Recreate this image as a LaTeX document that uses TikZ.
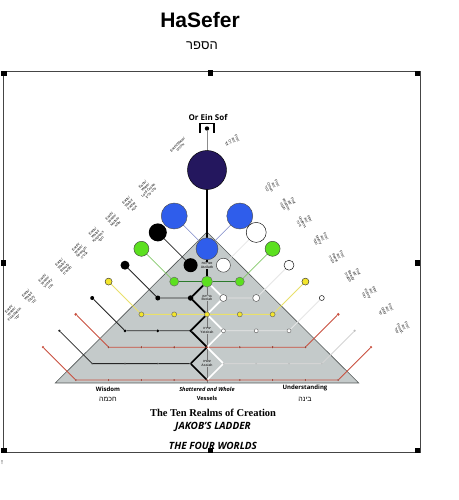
\documentclass[tikz,border=0pt]{standalone}
\usepackage{fontspec}
\setmainfont{Liberation Serif}
\setsansfont{Open Sans}
\newfontfamily\arialf{Liberation Sans}
\newfontfamily\hebf[Script=Hebrew]{Liberation Sans}
\TeXXeTstate=1
\newcommand{\heb}[1]{{\hebf\beginR #1\endR}}
\newcommand{\tinyf}{\fontsize{3.5}{3.9}\selectfont\arialf}
\definecolor{einsof}{HTML}{24175E}
\definecolor{sblue}{HTML}{2F5DEB}
\definecolor{sgreen}{HTML}{5CE01F}
\definecolor{syellow}{HTML}{F3E52C}
\definecolor{sred}{HTML}{C9503F}
\definecolor{tri}{HTML}{C4CACA}
\definecolor{trid}{HTML}{505555}
\definecolor{framec}{HTML}{454545}
\definecolor{lyellow}{HTML}{E9E06A}
\definecolor{lgreen}{HTML}{84C96A}
\definecolor{dgreen}{HTML}{2B7A2B}
\definecolor{lblue}{HTML}{7B86C8}
\definecolor{wl}{HTML}{E6E6E6}
\definecolor{gl}{HTML}{D4D4D4}
\pgfdeclarelayer{bottom}
\pgfdeclarelayer{back}
\pgfsetlayers{bottom,back,main}
\begin{document}
\begin{tikzpicture}[x=1pt,y=-1pt,
  sph/.style={circle,inner sep=0pt,outer sep=0pt,line width=0.45pt},
  lblL/.style={font=\tinyf,align=center,rotate=45,inner sep=0pt,text=black},
  lblR/.style={font=\tinyf,align=center,rotate=-62,inner sep=0pt,text=black},
  inlbl/.style={font=\fontsize{3.4}{3.8}\selectfont\arialf\bfseries,align=center,inner sep=0.3pt,fill=tri,text=black!80},
  lnBlue/.style={draw=lblue,line width=0.6pt},
  lnBlack/.style={draw=black!85,line width=0.8pt},
  lnWhite/.style={draw=wl,line width=0.8pt},
  lnGray/.style={draw=gl,line width=0.9pt},
  lnGreenD/.style={draw=lgreen,line width=0.7pt},
  lnGreenH/.style={draw=dgreen,line width=1pt},
  lnYellow/.style={draw=lyellow,line width=1pt},
  lnRed/.style={draw=sred,line width=0.9pt},
  lnCenter/.style={draw=black!55,line width=0.4pt},
  zzBlack/.style={draw=black,line width=1.7pt,line cap=round,line join=round},
  zzWhite/.style={draw=white,line width=1.7pt,line cap=round,line join=round},
  botlbl/.style={font=\sffamily\bfseries\fontsize{6}{7}\selectfont,inner sep=0pt},
  bighd/.style={font=\sffamily\bfseries\itshape\fontsize{10}{12}\selectfont,inner sep=0pt}
]
\useasboundingbox (0,0) rectangle (458,500);
\begin{pgfonlayer}{bottom}
\fill[white] (0,0) rectangle (458,500);
\end{pgfonlayer}

% titles
\node[font=\arialf\bfseries\fontsize{21}{24}\selectfont] (title) at (200,20) {HaSefer};
\node[font=\fontsize{13}{15}\selectfont] (titleH) at (202,46) {\heb{הספר}};

% frame
\draw[draw=framec,line width=1pt] (3,71.5) rectangle (420,452.5);

% Or Ein Sof
\node[font=\sffamily\bfseries\fontsize{8}{9}\selectfont,inner sep=0pt] (ors) at (208,117) {Or Ein Sof};
\draw[line width=1.5pt] (200,133) -- (200,123.5) -- (214,123.5) -- (214,133);
\fill (207,128.5) circle (2.2);
\coordinate (icon) at (207,131);
\node[sph,fill=einsof,draw=black,minimum size=39pt] (bigc) at (207,170) {};

\node[lblL] (ltop) at (179,146) {Earth/Water/\\\heb{אלהים}};
\node[lblR] (rtop) at (232,141) {Fire/\\Air/\\Or\\\heb{אור}};

\begin{scope}[shift={(207,216)},x=16.4pt,y=-16.4pt]
\begin{pgfonlayer}{bottom}
\fill[tri,draw=trid,line width=0.6pt] (0,0.98) -- (9.25,10.18) -- (-9.25,10.18) -- cycle;
\end{pgfonlayer}
\coordinate (base) at (0,10.18);
% level 0
\node[sph,fill=sblue,draw=black!70,minimum size=26pt] (OL0) at (-2,0) {};
\node[sph,fill=sblue,draw=black!70,minimum size=26pt] (OR0) at (2,0) {};
\node[sph,fill=sblue,draw=black!70,minimum size=22pt] (C0) at (0,2) {};
% level 1
\node[sph,fill=black,minimum size=18pt] (OL1) at (-3,1) {};
\node[sph,fill=white,draw=black,minimum size=20pt] (OR1) at (3,1) {};
\node[sph,fill=black,minimum size=14pt] (RL1-1) at (-1,3) {};
\node[sph,fill=white,draw=black!80,minimum size=14pt] (RR1-1) at (1,3) {};
% level 2
\node[sph,fill=sgreen,draw=black!75,minimum size=15pt] (OL2) at (-4,2) {};
\node[sph,fill=sgreen,draw=black!75,minimum size=15pt] (OR2) at (4,2) {};
\node[sph,fill=sgreen,draw=black!60,minimum size=9pt] (RL2-2) at (-2,4) {};
\node[sph,fill=sgreen,draw=black!60,minimum size=9pt] (RR2-2) at (2,4) {};
\node[sph,fill=sgreen,draw=black!60,minimum size=11pt] (C2) at (0,4) {};
% level 3
\node[sph,fill=black,minimum size=9pt] (OL3) at (-5,3) {};
\node[sph,fill=white,draw=black,minimum size=10pt] (OR3) at (5,3) {};
\node[sph,fill=black,minimum size=5pt] (RL3-3) at (-3,5) {};
\node[sph,fill=black,minimum size=5.5pt] (RL3-1) at (-1,5) {};
\node[sph,fill=white,draw=black!70,minimum size=7pt] (RR3-1) at (1,5) {};
\node[sph,fill=white,draw=black!70,minimum size=7pt] (RR3-3) at (3,5) {};
% level 4
\foreach \n/\x in {OL4/-6,OR4/6}
  \node[sph,fill=syellow,draw=black!80,minimum size=7pt] (\n) at (\x,4) {};
\foreach \n/\x in {RL4-4/-4,RL4-2/-2,C4/0,RR4-2/2,RR4-4/4}
  \node[sph,fill=syellow,draw=black!60,minimum size=5pt] (\n) at (\x,6) {};
% level 5
\node[sph,fill=black,minimum size=4pt] (OL5) at (-7,5) {};
\node[sph,fill=white,draw=black,minimum size=5pt] (OR5) at (7,5) {};
\foreach \n/\x in {RL5-5/-5,RL5-3/-3,RL5-1/-1}
  \node[sph,fill=black,minimum size=3pt] (\n) at (\x,7) {};
\foreach \n/\x in {RR5-1/1,RR5-3/3,RR5-5/5}
  \node[sph,fill=white,draw=black!60,minimum size=4pt] (\n) at (\x,7) {};
% level 6
\foreach \n/\x in {OL6/-8,OR6/8}
  \node[sph,fill=sred,minimum size=3pt] (\n) at (\x,6) {};
\foreach \n/\x in {RL6-6/-6,RL6-4/-4,RL6-2/-2,C6/0,RR6-2/2,RR6-4/4,RR6-6/6}
  \node[sph,fill=sred!80!black,minimum size=2.2pt] (\n) at (\x,8) {};
% level 7
\node[sph,fill=black!85,minimum size=2.5pt] (OL7) at (-9,7) {};
\node[sph,fill=black!25,minimum size=2.5pt] (OR7) at (9,7) {};
\foreach \n/\x in {RL7-7/-7,RL7-5/-5,RL7-3/-3,RL7-1/-1}
  \node[sph,fill=black!80,minimum size=1.8pt] (\n) at (\x,9) {};
\foreach \n/\x in {RR7-1/1,RR7-3/3,RR7-5/5,RR7-7/7}
  \node[sph,fill=black!25,minimum size=1.8pt] (\n) at (\x,9) {};
% level 8
\foreach \n/\x in {OL8/-10,OR8/10}
  \node[sph,fill=sred,minimum size=2.5pt] (\n) at (\x,8) {};
\foreach \n/\x in {RL8-8/-8,RL8-6/-6,RL8-4/-4,RL8-2/-2,C8/0,RR8-2/2,RR8-4/4,RR8-6/6,RR8-8/8}
  \node[sph,fill=sred!80!black,minimum size=2pt] (\n) at (\x,10) {};

% inner labels
\node[inlbl] (atz) at (0,3) {\heb{אצילות}\\Atziluth};
\node[inlbl] (ber) at (0,5) {\heb{בריאה}\\Beriah};
\node[inlbl] (yet) at (0,7) {\heb{יצירה}\\Yetzirah};
\node[inlbl] (ass) at (0,9) {\heb{עשיה}\\Assiah};

\begin{pgfonlayer}{back}
\draw[draw=black!45,line width=0.6pt] (icon) -- (bigc);
\draw[lnCenter] (C2) -- (base);
\draw[lnBlue] (OL0) -- (C0);
\draw[lnBlue] (OR0) -- (C0);
\draw[lnBlack] (OL1) -- (RL1-1);
\draw[lnWhite] (OR1) -- (RR1-1);
\draw[lnGreenD] (OL2) -- (RL2-2);
\draw[lnGreenD] (OR2) -- (RR2-2);
\draw[lnGreenH] (RL2-2) -- (C2) -- (RR2-2);
\draw[lnBlack] (OL3) -- (RL3-3) -- (RL3-1);
\draw[lnWhite] (OR3) -- (RR3-3) -- (RR3-1);
\draw[lnYellow] (OL4) -- (RL4-4) -- (RL4-2) -- (C4) -- (RR4-2) -- (RR4-4) -- (OR4);
\draw[lnBlack] (OL5) -- (RL5-5) -- (RL5-3) -- (RL5-1);
\draw[lnWhite] (OR5) -- (RR5-5) -- (RR5-3) -- (RR5-1);
\draw[lnRed] (OL6) -- (RL6-6) -- (RL6-4) -- (RL6-2) -- (C6) -- (RR6-2) -- (RR6-4) -- (RR6-6) -- (OR6);
\draw[lnBlack] (OL7) -- (RL7-7) -- (RL7-5) -- (RL7-3) -- (RL7-1);
\draw[lnGray] (OR7) -- (RR7-7) -- (RR7-5) -- (RR7-3) -- (RR7-1);
\draw[lnRed] (OL8) -- (RL8-8) -- (RL8-6) -- (RL8-4) -- (RL8-2) -- (C8) -- (RR8-2) -- (RR8-4) -- (RR8-6) -- (RR8-8) -- (OR8);
\draw[zzBlack] (bigc) -- (C0) -- (C2) -- (RL3-1) -- (C4) -- (RL5-1) -- (C6) -- (RL7-1) -- (C8);
\draw[zzWhite] (C2) -- (RR3-1) -- (C4) -- (RR5-1) -- (C6) -- (RR7-1) -- (C8);
\end{pgfonlayer}
\end{scope}

% left rotated label blocks
\node[lblL] (L0) at (147,189) {Earth/\\Water/\\Lord Crown\\\heb{כתר עליון}};
\node[lblL] (L1) at (130.2,204.5) {Earth/\\Water/\\Father\\\heb{אבא}};
\node[lblL] (L2) at (113.5,220) {Earth/\\Water/\\Mother\\\heb{אמא}};
\node[lblL] (L3) at (96.8,235.5) {Earth/\\Water/\\Kindness\\\heb{חסד}};
\node[lblL] (L4) at (80,251) {Earth/\\Water/\\Strength\\\heb{גבורה}};
\node[lblL] (L5) at (63.2,266.5) {Earth/\\Water/\\Beauty\\\heb{תפארת}};
\node[lblL] (L6) at (46.5,282) {Earth/\\Water/\\Victory\\\heb{נצח}};
\node[lblL] (L7) at (29.8,297.5) {Earth/\\Water/\\Glory\\\heb{הוד}};
\node[lblL] (L8) at (13,313) {Earth/\\Water/\\Foundation\\\heb{יסוד}};

% right rotated label blocks
\node[lblR] (R0) at (272,186) {Fire/\\Air/\\Crown\\\heb{כתר}};
\node[lblR] (R1) at (288.2,203.8) {Fire/\\Air/\\Wisdom\\\heb{חכמה}};
\node[lblR] (R2) at (304.5,221.5) {Fire/\\Air/\\Underst.\\\heb{בינה}};
\node[lblR] (R3) at (320.8,239.2) {Fire/\\Air/\\Mercy\\\heb{חסד}};
\node[lblR] (R4) at (337,257) {Fire/\\Air/\\Power\\\heb{גבורה}};
\node[lblR] (R5) at (353.2,274.8) {Fire/\\Air/\\Beauty\\\heb{תפארת}};
\node[lblR] (R6) at (369.5,292.5) {Fire/\\Air/\\Victory\\\heb{נצח}};
\node[lblR] (R7) at (385.8,310.2) {Fire/\\Air/\\Glory\\\heb{הוד}};
\node[lblR] (R8) at (402,328) {Fire/\\Air/\\Found.\\\heb{יסוד}};

% bottom labels
\node[botlbl] (wis) at (108,389) {Wisdom};
\node[font=\fontsize{7}{8}\selectfont,inner sep=0pt] (wisH) at (108,399) {\heb{חכמה}};
\node[botlbl,font=\sffamily\bfseries\itshape\fontsize{5.6}{7}\selectfont] (shat) at (207,389) {Shattered and Whole};
\node[botlbl,font=\sffamily\bfseries\fontsize{5.6}{7}\selectfont] (ves) at (207,398) {Vessels};
\node[botlbl] (und) at (305,388) {Understanding};
\node[font=\fontsize{7}{8}\selectfont,inner sep=0pt] (undH) at (305,399) {\heb{בינה}};
\node[font=\bfseries\fontsize{10.5}{12}\selectfont,inner sep=0pt] (ten) at (213,413) {The Ten Realms of Creation};
\node[bighd] (jak) at (213,427) {JAKOB'S LADDER};
\node[bighd] (four) at (213,446) {THE FOUR WORLDS};

% selection handles
\fill (1,71) rectangle (7,76);
\fill (208,70) rectangle (213,76);
\fill (415,71) rectangle (420,76);
\fill (0.5,260) rectangle (6,265.5);
\fill (415,260) rectangle (420,265.5);
\fill (1,448) rectangle (7,453);
\fill (208,448) rectangle (213,453);
\fill (415,448) rectangle (420,453);
\node[font=\fontsize{6}{7}\selectfont,inner sep=0pt,anchor=west] (bang) at (1,463) {!};
\end{tikzpicture}
\end{document}
